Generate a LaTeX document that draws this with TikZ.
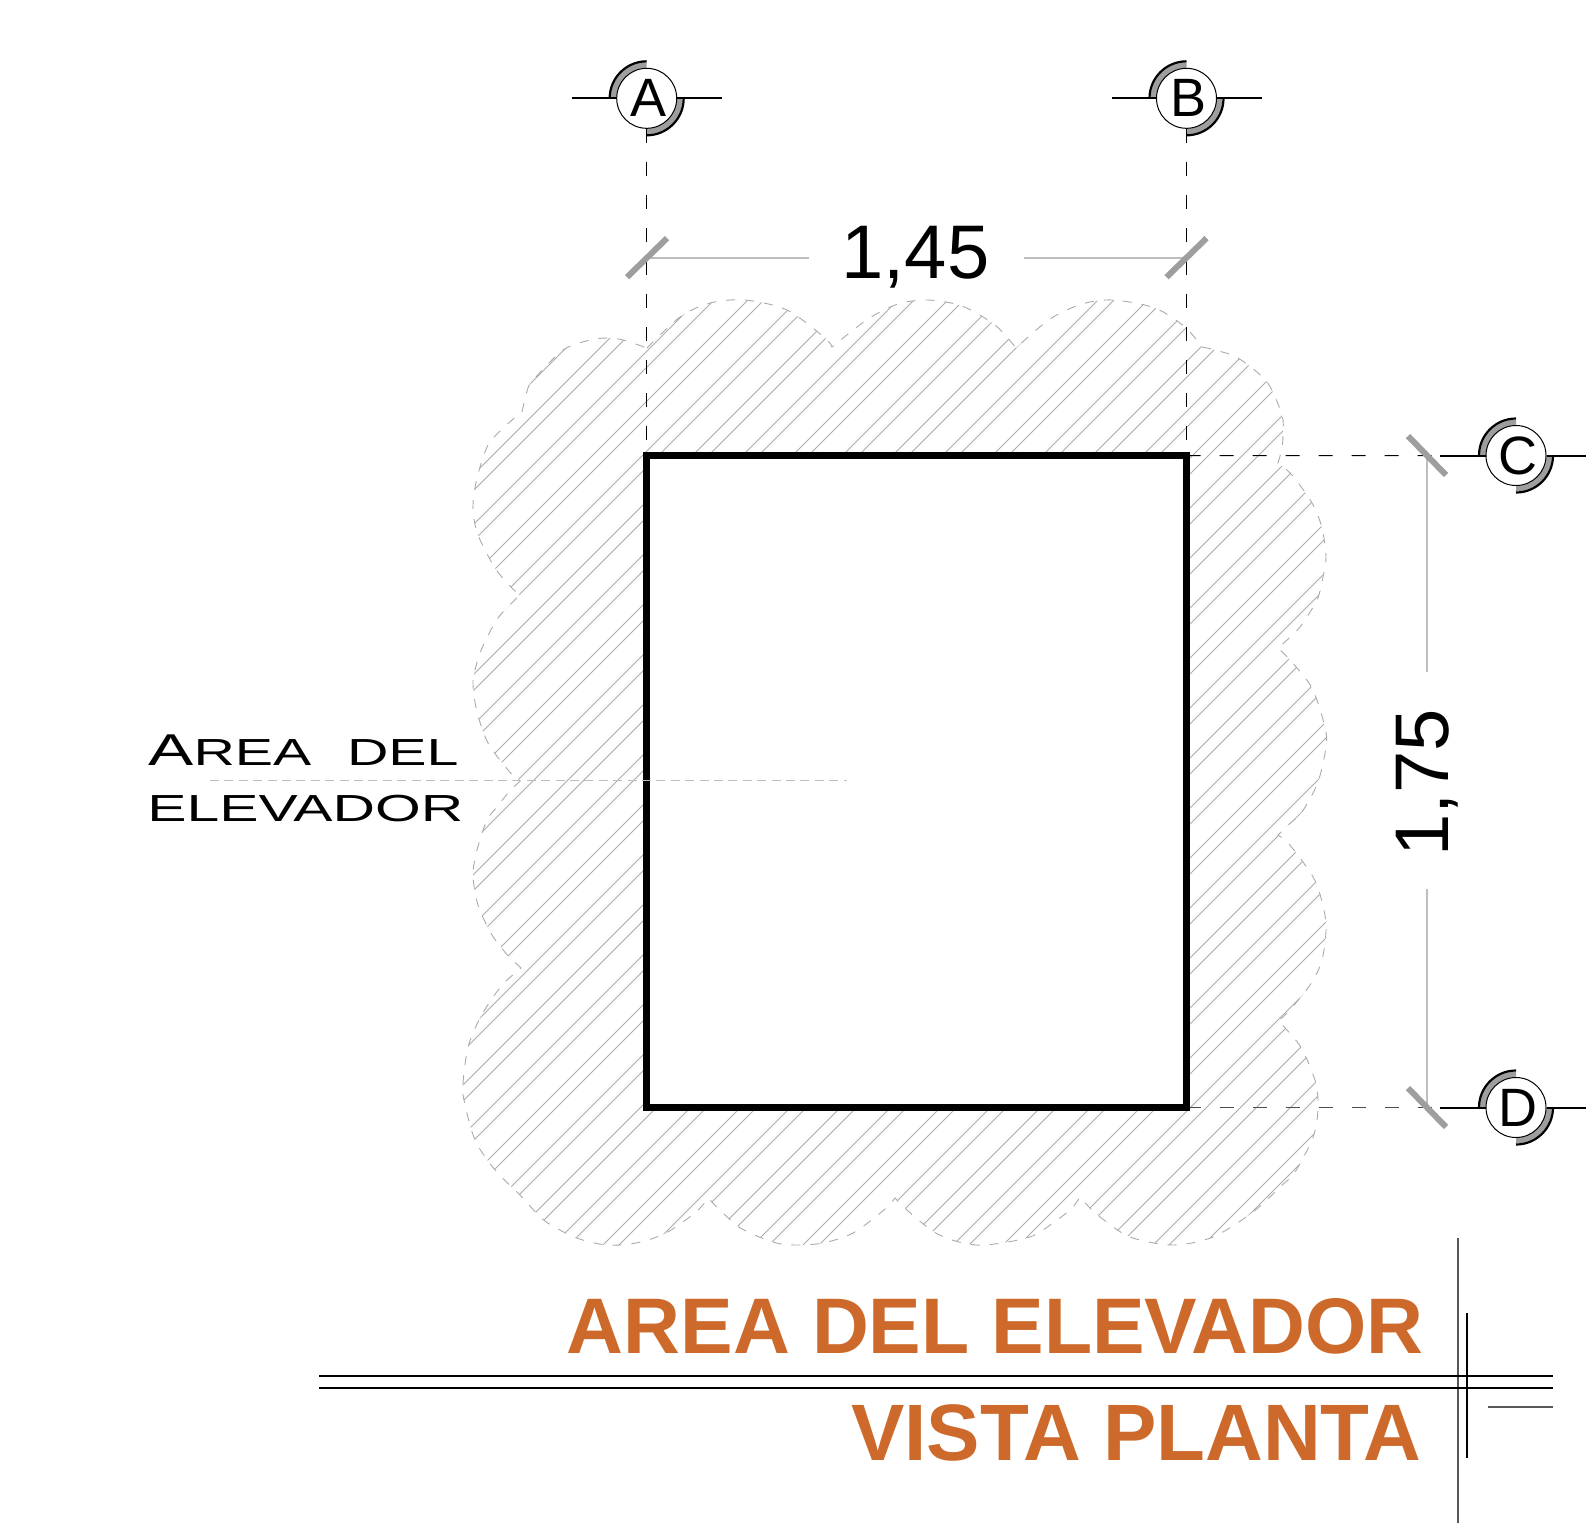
\documentclass[tikz,border=0pt]{standalone}
\usepackage{fontspec}
\usepackage{graphicx}
\setmainfont{Liberation Sans}
\definecolor{titleorange}{HTML}{CD6A2B}
\definecolor{hatchgrey}{HTML}{ABABAB}
\definecolor{dimgrey}{HTML}{BEBEBE}
\definecolor{tickgrey}{HTML}{9E9E9E}
\tikzset{
  hatchline/.style={draw=hatchgrey,line width=.42pt},
  cloudline/.style={draw=hatchgrey,line width=.45pt,dash pattern=on 4.5pt off 5pt},
  axisline/.style={draw=black,line width=.5pt,dash pattern=on 7pt off 9.5pt},
  gridline/.style={draw=black,line width=1pt},
  dimline/.style={draw=dimgrey,line width=1pt},
  tickline/.style={draw=tickgrey,line width=3pt},
  bubble/.style={circle,draw=black,fill=white,line width=.5pt,minimum size=30pt,inner sep=0pt,font=\fontsize{27pt}{27pt}\selectfont},
  dimtext/.style={inner sep=0pt,font=\fontsize{38pt}{38pt}\selectfont},
  titlefirst/.style={inner sep=0pt,anchor=base east,text=titleorange,font=\fontsize{39.4pt}{40pt}\selectfont\bfseries},
  titlesecond/.style={inner sep=0pt,anchor=base east,text=titleorange,font=\fontsize{40pt}{40pt}\selectfont\bfseries},
  labeltext/.style={inner sep=0pt,anchor=base west},
  leaderline/.style={draw=dimgrey,line width=.6pt,dash pattern=on 4.5pt off 2.7pt},
  thinframe/.style={draw=black,line width=.6pt},
  thickframe/.style={draw=black,line width=1pt},
  greyframe/.style={draw=black!65,line width=.8pt}
}
\newcommand{\gridbub}[4]{%
  \coordinate (#1c) at (#2,#3);
  \fill[tickgrey] ([xshift=-15pt]#1c) arc[start angle=180,end angle=90,radius=15pt] -- ([yshift=18pt]#1c) arc[start angle=90,end angle=180,radius=18pt] -- cycle;
  \fill[tickgrey] ([xshift=15pt]#1c) arc[start angle=0,end angle=-90,radius=15pt] -- ([yshift=-18pt]#1c) arc[start angle=-90,end angle=0,radius=18pt] -- cycle;
  \draw[black,line width=1.1pt] ([xshift=-18.5pt]#1c) arc[start angle=180,end angle=90,radius=18.5pt];
  \draw[black,line width=1.1pt] ([xshift=18.5pt]#1c) arc[start angle=0,end angle=-90,radius=18.5pt];
  \node[bubble] (#1) at (#1c) {\hspace*{1.5pt}#4};
}
\def\cloudpath{
  plot[smooth] coordinates {(647,348) (680,317) (710,303) (745,300) (787,310) (825,338) (832,347)}
  -- plot[smooth] coordinates {(832,347) (868,319) (898,304) (928,300) (962,306) (995,325) (1016,348)}
  -- plot[smooth] coordinates {(1016,348) (1050,319) (1082,304) (1113,300) (1155,308) (1185,327) (1202,347)}
  -- plot[smooth] coordinates {(1202,347) (1215,350) (1238,358) (1267,382) (1282,415) (1283,433) (1282,448) (1278,463)}
  -- plot[smooth] coordinates {(1278,463) (1292,475) (1312,503) (1322,528) (1326,557) (1323,577) (1317,600) (1300,627) (1287,640) (1278,648)}
  -- plot[smooth] coordinates {(1278,648) (1290,660) (1312,688) (1325,727) (1326,747) (1318,782) (1302,812) (1288,825) (1278,835)}
  -- plot[smooth] coordinates {(1278,835) (1288,843) (1303,862) (1317,885) (1326,923) (1322,960) (1310,985) (1288,1012) (1278,1021)}
  -- plot[smooth] coordinates {(1278,1021) (1287,1030) (1302,1049) (1315,1080) (1318,1100) (1317,1120) (1312,1140) (1295,1172) (1280,1187) (1253,1212) (1213,1237) (1173,1245) (1130,1237) (1100,1217) (1090,1208) (1080,1197)}
  -- plot[smooth] coordinates {(1080,1197) (1072,1208) (1057,1220) (1030,1237) (985,1245) (959,1242) (934,1232) (907,1210) (895,1198)}
  -- plot[smooth] coordinates {(895,1198) (884,1210) (853,1233) (823,1243) (795,1245) (773,1242) (739,1227) (708,1198)}
  -- plot[smooth] coordinates {(708,1198) (696,1212) (666,1233) (636,1243) (607,1245) (577,1238) (545,1221) (520,1195) (495,1170) (475,1140) (464,1100) (463,1083) (468,1047) (479,1020) (491,1000) (504,983) (521,968)}
  -- (509,957)
  -- plot[smooth] coordinates {(509,957) (492,935) (478,905) (473,875) (477,850) (487,820) (497,807) (508,793) (520,781)}
  -- plot[smooth] coordinates {(520,781) (508,770) (488,743) (477,712) (473,685) (475,670) (482,648) (498,618) (520,595)}
  -- plot[smooth] coordinates {(520,595) (511,587) (495,568) (478,535) (473,510) (475,488) (480,467) (488,445) (498,433) (512,420) (522,412)}
  -- plot[smooth] coordinates {(522,412) (528,388) (535,378) (563,350) (590,340) (608,338) (623,340) (647,348)}
  -- cycle}
\begin{document}
\begin{tikzpicture}[x=.5pt,y=-.5pt]
\useasboundingbox (0,0) rectangle (1586,1523);
\fill[white] (0,0) rectangle (1586,1523);
% hatched cloud
\begin{scope}
  \clip \cloudpath;
  \foreach \k in {14,...,52}{
    \pgfmathsetmacro{\ca}{50*\k+14}
    \pgfmathsetmacro{\cb}{50*\k+48}
    \draw[hatchline] ({\ca-200},200) -- ({\ca-1400},1400);
    \draw[hatchline] ({\cb-200},200) -- ({\cb-1400},1400);
  }
\end{scope}
\draw[cloudline] \cloudpath;
% room
\coordinate (r1) at (646.7,455.7);
\coordinate (r2) at (1186.5,455.7);
\coordinate (r3) at (1186.5,1107.5);
\coordinate (r4) at (646.7,1107.5);
\fill[white] (r1) -- (r2) -- (r3) -- (r4) -- cycle;
% grid bubbles
\gridbub{A}{646.7}{98.3}{A}
\gridbub{B}{1186.5}{98.3}{B}
\gridbub{C}{1516}{455.5}{C}
\gridbub{D}{1516}{1107.5}{D}
% grid lines
\coordinate (Al) at (572,98.3); \coordinate (Ar) at (722,98.3);
\coordinate (Bl) at (1112,98.3); \coordinate (Br) at (1262,98.3);
\coordinate (Cl) at (1440,455.5); \coordinate (Cr) at (1586,455.5);
\coordinate (Dl) at (1440,1107.5); \coordinate (Dr) at (1586,1107.5);
\foreach \n in {A,B,C,D}{
  \draw[gridline] (\n l) -- (\n.west);
  \draw[gridline] (\n.east) -- (\n r);
}
% axes
\draw[axisline] (A.south) -- (r1);
\draw[axisline] (B.south) -- (r2);
\coordinate (Cax) at (1441,455.5);
\coordinate (Dax) at (1441,1107.5);
\draw[axisline] (r2) -- (Cax);
\draw[axisline,draw=black!70] (r3) -- (Dax);
% room outline over the hatch
\draw[black,line width=3.25pt,line join=miter] (r1) -- (r2) -- (r3) -- (r4) -- cycle;
% dimensions
\node[dimtext,anchor=base] (dimh) at (915.5,278) {1,45};
\node[dimtext,anchor=base,rotate=90] (dimv) at (1448,783) {1,75};
\coordinate (hl) at (647,257.7); \coordinate (hla) at (809,257.7);
\coordinate (hr) at (1186.5,257.7); \coordinate (hra) at (1024,257.7);
\coordinate (vt) at (1427,455.5); \coordinate (vta) at (1427,672);
\coordinate (vb) at (1427,1107.5); \coordinate (vba) at (1427,889);
\draw[dimline] (hl) -- (hla);
\draw[dimline] (hr) -- (hra);
\draw[dimline] (vt) -- (vta);
\draw[dimline] (vb) -- (vba);
\draw[tickline] ([shift={(-20,19.5)}]hl) -- ([shift={(20,-19.5)}]hl);
\draw[tickline] ([shift={(-20,19.5)}]hr) -- ([shift={(20,-19.5)}]hr);
\draw[tickline] ([shift={(-19,-19.5)}]vt) -- ([shift={(19,19.5)}]vt);
\draw[tickline] ([shift={(-19,-19.5)}]vb) -- ([shift={(19,19.5)}]vb);
% label and leader
\coordinate (lead1) at (210,780.7); \coordinate (lead2) at (847,780.7);
\draw[leaderline] (lead1) -- (lead2);
\node[labeltext] (lab1) at (148,765) {\scalebox{1.52}[1]{\fontsize{22.3pt}{22.3pt}\selectfont A\fontsize{18.85pt}{18.85pt}\selectfont REA\hspace{6.5pt} DEL}};
\node[labeltext] (lab2) at (147,821) {\scalebox{1.56}[1]{\fontsize{18.85pt}{18.85pt}\selectfont ELEVADOR}};
% title
\node[titlefirst] (t1) at (1424,1353.5) {AREA DEL ELEVADOR};
\node[titlesecond] (t2) at (1422,1460) {VISTA PLANTA};
\coordinate (f1a) at (1457.7,1238); \coordinate (f1b) at (1457.7,1523);
\coordinate (f2a) at (1467,1313); \coordinate (f2b) at (1467,1457.7);
\coordinate (f3a) at (319,1376); \coordinate (f3b) at (1552.7,1376);
\coordinate (f4a) at (319,1387.7); \coordinate (f4b) at (1552.7,1387.7);
\coordinate (f5a) at (1488,1406.7); \coordinate (f5b) at (1552.7,1406.7);
\draw[greyframe] (f1a) -- (f1b);
\draw[thickframe] (f2a) -- (f2b);
\draw[thinframe] (f3a) -- (f3b);
\draw[thickframe] (f4a) -- (f4b);
\draw[greyframe] (f5a) -- (f5b);
\end{tikzpicture}
\end{document}
